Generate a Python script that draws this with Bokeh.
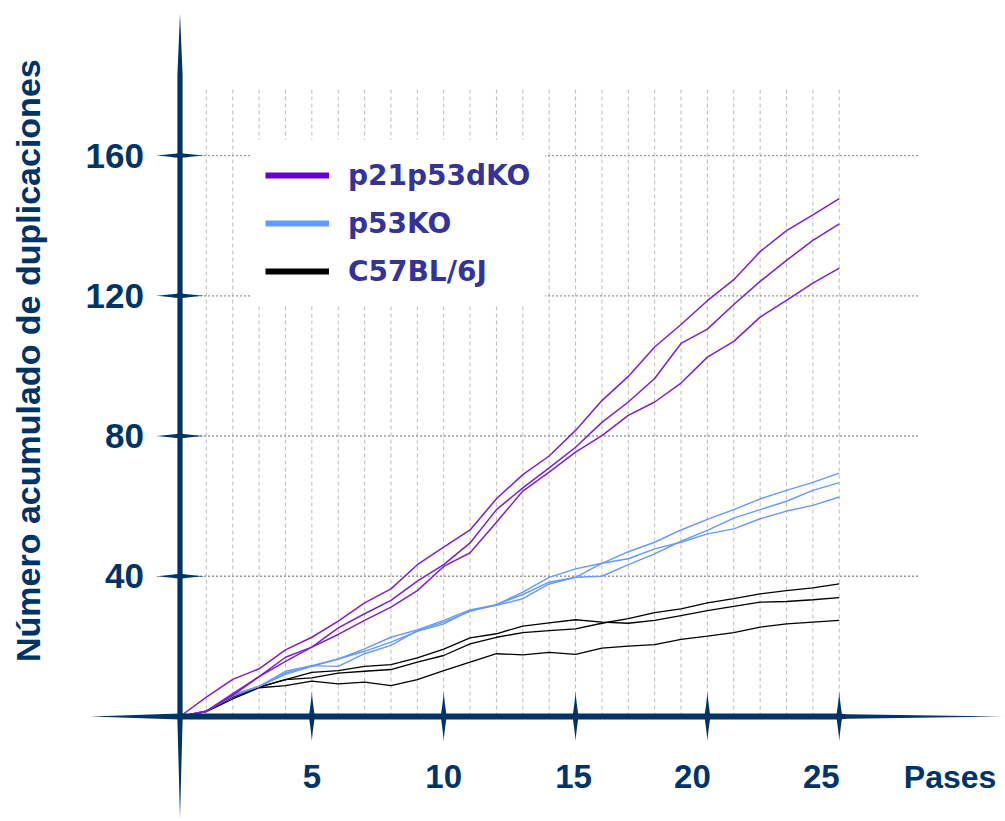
import numpy as np
from bokeh.plotting import figure
from bokeh.models import Range1d, Legend, LegendItem
from bokeh.core.properties import value
from bokeh.embed import file_html
from bokeh.resources import INLINE

# ---------------- data ----------------
passes = list(range(0, 26))

p21p53dko_1 = [0, 5.5, 10.6, 13.6, 19.0, 22.6, 27.2, 32.4, 36.4, 43.3, 48.3, 53.2, 62.1, 69.0,
               74.3, 81.6, 90.1, 97.0, 105.4, 111.8, 118.6, 124.6, 132.6, 138.6, 143.1, 147.7]
p21p53dko_2 = [0, 1.5, 6.5, 11.4, 16.9, 19.8, 25.3, 29.3, 33.1, 38.6, 43.3, 49.5, 59.0, 65.2,
               70.9, 76.8, 83.9, 89.7, 96.4, 106.4, 110.5, 117.5, 124.1, 130.1, 135.8, 140.5]
p21p53dko_3 = [0, 1.5, 6.0, 11.4, 15.7, 19.8, 23.4, 27.4, 31.2, 35.9, 42.8, 46.7, 55.4, 64.3,
               69.7, 75.4, 80.1, 85.9, 89.7, 95.1, 102.5, 107.0, 113.9, 118.7, 123.6, 127.9]

p53ko_1 = [0, 1.5, 6.2, 8.6, 12.9, 14.5, 16.4, 19.3, 22.6, 24.7, 27.4, 30.4, 31.9, 35.5,
           39.7, 42.1, 43.7, 47.0, 49.7, 53.2, 56.2, 59.0, 62.1, 64.5, 66.8, 69.4]
p53ko_2 = [0, 1.5, 6.0, 8.6, 12.4, 14.5, 14.3, 17.9, 20.3, 24.5, 26.9, 30.0, 31.9, 34.8,
           38.3, 39.7, 43.7, 45.0, 47.8, 49.7, 52.1, 53.5, 56.4, 58.6, 60.2, 62.6]
p53ko_3 = [0, 1.5, 5.8, 8.6, 12.0, 14.3, 16.4, 18.6, 21.2, 24.3, 26.4, 30.2, 31.7, 33.6,
           37.8, 39.7, 40.0, 43.3, 46.4, 50.0, 53.1, 56.6, 59.0, 61.4, 64.5, 66.7]

c57_1 = [0, 1.5, 6.2, 8.4, 10.5, 12.6, 13.1, 14.3, 14.8, 16.7, 19.2, 22.4, 23.6, 25.8,
         26.7, 27.6, 26.9, 26.6, 27.4, 28.8, 30.2, 31.4, 32.6, 32.8, 33.3, 33.9]
c57_2 = [0, 1.5, 5.5, 8.4, 10.5, 11.0, 12.4, 12.9, 13.4, 15.5, 17.4, 20.7, 22.6, 23.9,
         24.5, 25.0, 26.6, 27.9, 29.6, 30.7, 32.4, 33.6, 35.0, 35.9, 36.7, 37.8]
c57_3 = [0, 1.4, 5.0, 8.2, 8.8, 10.1, 9.3, 9.8, 8.8, 10.5, 13.1, 15.5, 17.9, 17.6,
         18.3, 17.7, 19.5, 20.1, 20.5, 22.0, 22.9, 23.9, 25.5, 26.4, 26.9, 27.4]

x_ticks = [5, 10, 15, 20, 25]
x_tick_labels = ["5", "10", "15", "20", "25"]
y_ticks = [40, 80, 120, 160]
y_tick_labels = ["40", "80", "120", "160"]
legend_labels = ["p21p53dKO", "p53KO", "C57BL/6J"]
x_title = "Pases"
y_title = "Número acumulado de duplicaciones"

# ---------------- styles ----------------
NAVY = "#003366"
PURPLE = "#7a1fd8"
PURPLE_LEG = "#6600cc"
BLUE = "#6699ff"
BLACK = "#000000"
LEG_TXT = "#333399"
x_label_shift = [0, 0, -2, -15, -18]   # screen px nudges of the x tick labels

W, H = 1005, 821
KX, KY = 26.37, 3.506          # px per unit
OX, OY = 179.5, 716.0          # screen position of the origin
X0, X1 = -OX / KX, (W - OX) / KX
Y0, Y1 = (OY - H) / KY, OY / KY

p = figure(width=W, height=H, output_backend="svg", toolbar_location=None,
           x_range=Range1d(X0, X1), y_range=Range1d(Y0, Y1),
           x_axis_location=None, y_axis_location=None, min_border=0,
           background_fill_color="white", border_fill_color="white")
p.outline_line_color = None
p.xgrid.visible = False
p.ygrid.visible = False

# grid
grid_x = passes[1:]
p.segment(x0=grid_x, y0=[0] * len(grid_x), x1=grid_x, y1=[179] * len(grid_x),
          line_color="#bdbdbd", line_width=1, line_dash="4 3")
p.segment(x0=[0] * len(y_ticks), y0=y_ticks, x1=[28] * len(y_ticks), y1=y_ticks,
          line_color="#9a9a9a", line_width=1.3, line_dash="2 2")

# data lines
for s in (c57_1, c57_2, c57_3):
    p.line(passes, s, line_color=BLACK, line_width=1.3)
for s in (p53ko_1, p53ko_2, p53ko_3):
    p.line(passes, s, line_color=BLUE, line_width=1.4)
for s in (p21p53dko_1, p21p53dko_2, p21p53dko_3):
    p.line(passes, s, line_color=PURPLE, line_width=1.5)

# axes (tapered shapes)
hx = 3.0 / KY     # half thickness of x axis in y units
wy = 2.6 / KX     # half thickness of y axis in x units
x_left, x_right = -3.4, 31.2
y_bot, y_top = -29.0, 200.5
p.patch([x_left, 0, 25, 25.3, x_right, 25.3, 25, 0],
        [0, hx, hx, 0.75 * hx, 0, -0.75 * hx, -hx, -hx], color=NAVY, line_width=0)
p.patch([0, wy, wy, 0, -wy, -wy],
        [y_bot, -1.0, 183.0, y_top, 183.0, -1.0], color=NAVY, line_width=0)

t = np.linspace(-1, 1, 41)
prof = (1 - np.abs(t)) ** 1.25

def spindle(cx, cy, half_len, half_w, vertical):
    along = t * half_len
    across = half_w * prof
    if vertical:
        xs = np.concatenate([cx + across, (cx - across)[::-1]])
        ys = np.concatenate([cy + along, (cy + along)[::-1]])
    else:
        xs = np.concatenate([cx + along, (cx + along)[::-1]])
        ys = np.concatenate([cy + across, (cy - across)[::-1]])
    return list(xs), list(ys)

tx, ty = [], []
for v in x_ticks:
    a, b = spindle(v, 0, 25 / KY, 3.0 / KX, True)
    tx.append(a); ty.append(b)
for v in y_ticks:
    a, b = spindle(0, v, 25 / KX, 2.5 / KY, False)
    tx.append(a); ty.append(b)
p.patches(tx, ty, color=NAVY, line_width=0)

# tick labels
FONT = value("Liberation Sans")
p.text(x=x_ticks, y=[0] * len(x_ticks), text=x_tick_labels, y_offset=60,
       x_offset=x_label_shift,
       text_align="center", text_baseline="middle", text_font=FONT,
       text_font_style="bold", text_font_size="33px", text_color=NAVY)
p.text(x=[0] * len(y_ticks), y=y_ticks, text=y_tick_labels, x_offset=-36,
       text_align="right", text_baseline="middle", text_font=FONT,
       text_font_style="bold", text_font_size="35px", text_color=NAVY)
p.text(x=[27.45], y=[0], text=[x_title], y_offset=60,
       text_align="left", text_baseline="middle", text_font=FONT,
       text_font_style="bold", text_font_size="32px", text_color=NAVY)
p.text(x=[-5.75], y=[101.5], text=[y_title], angle=np.pi / 2,
       text_align="center", text_baseline="middle", text_font=FONT,
       text_font_style="bold", text_font_size="34px", text_color=NAVY)

# legend
nan = [np.nan]
r1 = p.line(nan, nan, line_color=PURPLE_LEG, line_width=6)
r2 = p.line(nan, nan, line_color=BLUE, line_width=6)
r3 = p.line(nan, nan, line_color=BLACK, line_width=6)
legend = Legend(items=[LegendItem(label=legend_labels[0], renderers=[r1]),
                       LegendItem(label=legend_labels[1], renderers=[r2]),
                       LegendItem(label=legend_labels[2], renderers=[r3])],
                location=(250, 515), glyph_width=64, glyph_height=40, label_height=40,
                label_standoff=19, spacing=8, padding=15, margin=0,
                border_line_alpha=0, background_fill_color="white", background_fill_alpha=1,
                label_text_font="DejaVu Sans", label_text_font_style="bold",
                label_text_font_size="28px", label_text_color=LEG_TXT)
p.add_layout(legend)

open("out.html", "w").write(file_html(p, INLINE))
